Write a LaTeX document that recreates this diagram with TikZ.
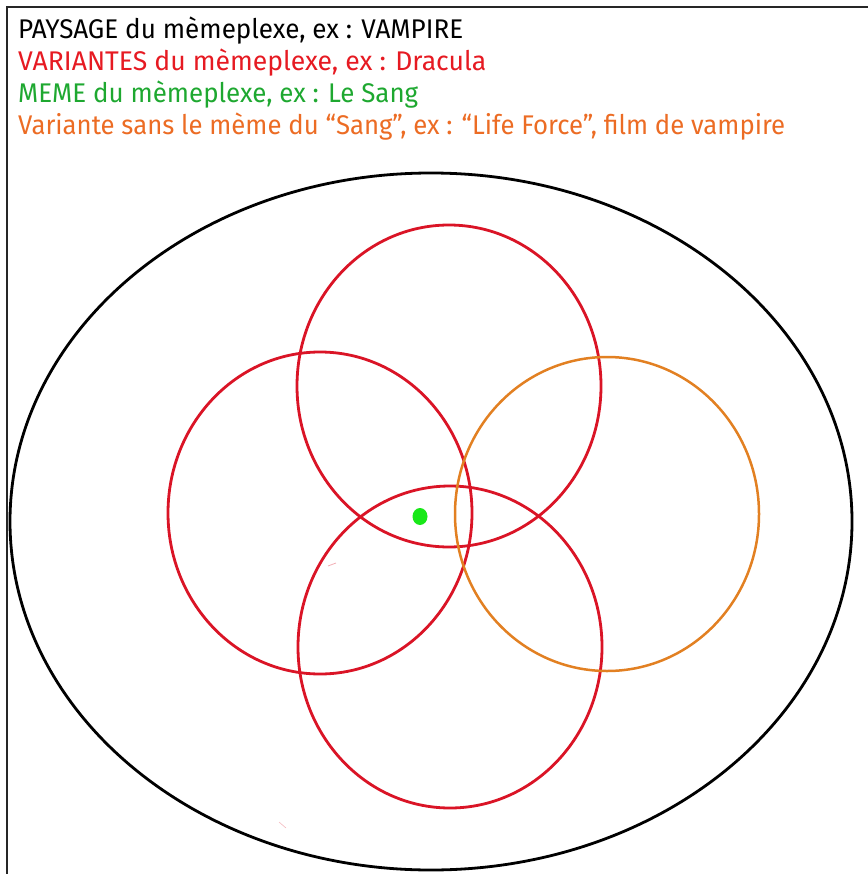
\documentclass[tikz,border=0pt]{standalone}
\usepackage{fontspec}
\setmainfont{Fira Sans}
\usepackage{graphicx}
\definecolor{txtred}{RGB}{230,26,34}
\definecolor{txtgreen}{RGB}{30,168,48}
\definecolor{txtorange}{RGB}{236,108,36}
\definecolor{circred}{RGB}{218,20,38}
\definecolor{circorange}{RGB}{226,128,34}
\definecolor{dotgreen}{RGB}{24,232,24}
\tikzset{
  legend/.style={anchor=base west, inner sep=0pt, font=\fontsize{27}{32}\selectfont},
  variante/.style={draw=circred, line width=2.8pt},
  sansmeme/.style={draw=circorange, line width=2.5pt},
  paysage/.style={draw=black, line width=2.8pt},
}
\begin{document}
\begin{tikzpicture}[x=1pt,y=-1pt]
\useasboundingbox (0,0) rectangle (867,874);
% frame
\draw[line width=2.8pt, draw=black!85] (7,880) -- (7,7) -- (880,7);
% legend
\node[legend] (l1) at (18,39) {\resizebox{445pt}{\height}{PAYSAGE du mèmeplexe, ex : VAMPIRE}};
\node[legend, text=txtred] (l2) at (18,71) {\resizebox{468pt}{\height}{VARIANTES du mèmeplexe, ex : Dracula}};
\node[legend, text=txtgreen] (l3) at (18,103) {\resizebox{400pt}{\height}{MEME du mèmeplexe, ex : Le Sang}};
\node[legend, text=txtorange] (l4) at (18,135) {\resizebox{767pt}{\height}{Variante sans le mème du “Sang”, ex : “Life Force”, film de vampire}};
% landscape
\draw[paysage] (431,521.5) ellipse [x radius=421, y radius=348.5];
% variants
\draw[variante] (449,386) ellipse [x radius=152, y radius=161];
\draw[variante] (320,513) ellipse [x radius=152, y radius=161];
\draw[variante] (450,647) ellipse [x radius=152, y radius=161];
\draw[sansmeme] (607,514) ellipse [x radius=152, y radius=157];
% meme
\fill[dotgreen] (420,516.5) ellipse [x radius=7.5, y radius=8.5];
% faint marks
\draw[circred, opacity=0.35, line width=0.8pt] (328,566) -- (336,563);
\draw[circred, opacity=0.3, line width=0.6pt] (279,822) -- (286,828);
\end{tikzpicture}
\end{document}
